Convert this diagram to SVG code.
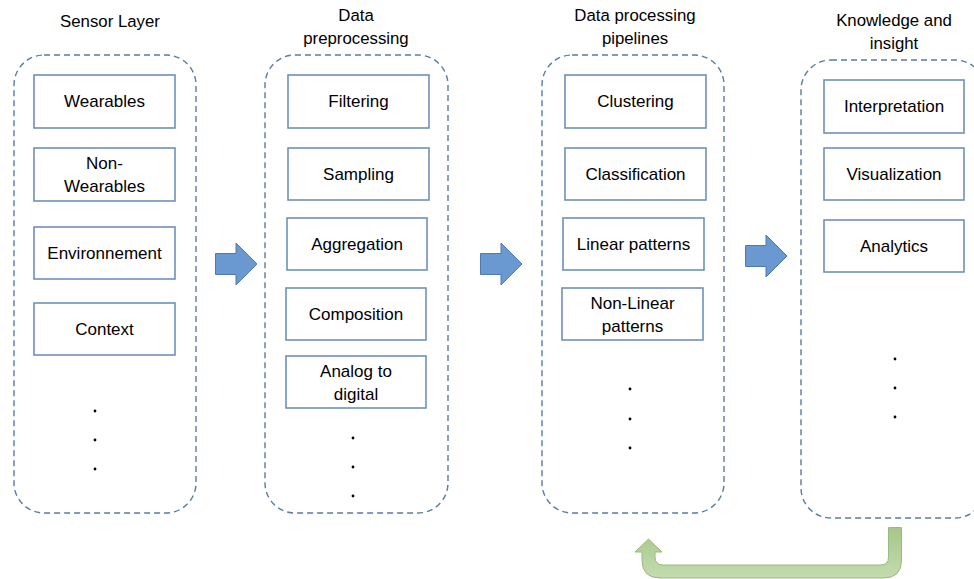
<svg xmlns="http://www.w3.org/2000/svg" width="974" height="579" viewBox="0 0 974 579">
  <defs>
    <style>
      .lane { fill: none; stroke: #5b7aa6; stroke-width: 1.4; stroke-dasharray: 6 4; }
      .box { fill: #ffffff; stroke: #7190b9; stroke-width: 1.6; }
      .title { font-family: "Liberation Sans", Arial, sans-serif; font-size: 16.8px; fill: #000; text-anchor: middle; }
      .label { font-family: "Liberation Sans", Arial, sans-serif; font-size: 17px; fill: #000; text-anchor: middle; }
      .dot { fill: #000; }
      .step { fill: #6a98d0; stroke: #4e79b2; stroke-width: 1; }
    </style>
    <linearGradient id="loopFill" x1="0" y1="0" x2="0" y2="1">
      <stop offset="0" stop-color="#a6c78a"/>
      <stop offset="1" stop-color="#c3dbae"/>
    </linearGradient>
  </defs>

  <!-- Stage headings -->
  <text class="title" x="110" y="27">Sensor Layer</text>
  <text class="title" x="356" y="21">Data</text>
  <text class="title" x="356" y="44">preprocessing</text>
  <text class="title" x="635" y="21">Data processing</text>
  <text class="title" x="635" y="44">pipelines</text>
  <text class="title" x="894" y="26">Knowledge and</text>
  <text class="title" x="894" y="49">insight</text>

  <!-- Stage 1: sensors -->
  <g id="sensor-layer">
    <rect class="lane" x="14" y="55" width="182" height="458" rx="30" ry="30"/>
    <g id="wearables">
      <rect class="box" x="34" y="75" width="141" height="53"/>
      <text class="label" x="104.5" y="107">Wearables</text>
    </g>
    <g id="non-wearables">
      <rect class="box" x="34" y="148" width="141" height="53"/>
      <text class="label" x="104.5" y="169">Non-</text>
      <text class="label" x="104.5" y="192">Wearables</text>
    </g>
    <g id="environnement">
      <rect class="box" x="34" y="227" width="141" height="52"/>
      <text class="label" x="104.5" y="259">Environnement</text>
    </g>
    <g id="context">
      <rect class="box" x="34" y="303" width="141" height="52"/>
      <text class="label" x="104.5" y="335">Context</text>
    </g>
    <circle class="dot" cx="95" cy="411" r="1.4"/>
    <circle class="dot" cx="95" cy="440" r="1.4"/>
    <circle class="dot" cx="95" cy="469" r="1.4"/>
  </g>

  <!-- Stage 2: preprocessing -->
  <g id="preprocessing">
    <rect class="lane" x="265" y="55" width="183" height="458" rx="30" ry="30"/>
    <g id="filtering">
      <rect class="box" x="288" y="75" width="141" height="53"/>
      <text class="label" x="358.5" y="107">Filtering</text>
    </g>
    <g id="sampling">
      <rect class="box" x="288" y="148" width="141" height="52"/>
      <text class="label" x="358.5" y="180">Sampling</text>
    </g>
    <g id="aggregation">
      <rect class="box" x="287" y="218" width="140" height="52"/>
      <text class="label" x="357" y="250">Aggregation</text>
    </g>
    <g id="composition">
      <rect class="box" x="286" y="288" width="140" height="52"/>
      <text class="label" x="356" y="320">Composition</text>
    </g>
    <g id="analog-to-digital">
      <rect class="box" x="286" y="356" width="140" height="52"/>
      <text class="label" x="356" y="377">Analog to</text>
      <text class="label" x="356" y="400">digital</text>
    </g>
    <circle class="dot" cx="353" cy="438" r="1.4"/>
    <circle class="dot" cx="353" cy="467" r="1.4"/>
    <circle class="dot" cx="353" cy="496" r="1.4"/>
  </g>

  <!-- Stage 3: processing pipelines -->
  <g id="pipelines">
    <rect class="lane" x="542" y="55" width="182" height="458" rx="30" ry="30"/>
    <g id="clustering">
      <rect class="box" x="565" y="75" width="141" height="53"/>
      <text class="label" x="635.5" y="107">Clustering</text>
    </g>
    <g id="classification">
      <rect class="box" x="565" y="148" width="141" height="52"/>
      <text class="label" x="635.5" y="180">Classification</text>
    </g>
    <g id="linear-patterns">
      <rect class="box" x="563" y="218" width="141" height="52"/>
      <text class="label" x="633.5" y="250">Linear patterns</text>
    </g>
    <g id="non-linear-patterns">
      <rect class="box" x="562" y="288" width="141" height="52"/>
      <text class="label" x="632.5" y="309">Non-Linear</text>
      <text class="label" x="632.5" y="332">patterns</text>
    </g>
    <circle class="dot" cx="630" cy="389" r="1.4"/>
    <circle class="dot" cx="630" cy="419" r="1.4"/>
    <circle class="dot" cx="630" cy="448" r="1.4"/>
  </g>

  <!-- Stage 4: knowledge -->
  <g id="knowledge">
    <rect class="lane" x="801" y="60" width="184" height="458" rx="30" ry="30"/>
    <g id="interpretation">
      <rect class="box" x="824" y="80" width="140" height="53"/>
      <text class="label" x="894" y="112">Interpretation</text>
    </g>
    <g id="visualization">
      <rect class="box" x="824" y="148" width="140" height="52"/>
      <text class="label" x="894" y="180">Visualization</text>
    </g>
    <g id="analytics">
      <rect class="box" x="824" y="220" width="140" height="52"/>
      <text class="label" x="894" y="252">Analytics</text>
    </g>
    <circle class="dot" cx="895" cy="359" r="1.4"/>
    <circle class="dot" cx="895" cy="388" r="1.4"/>
    <circle class="dot" cx="895" cy="417" r="1.4"/>
  </g>

  <!-- Flow between stages -->
  <g id="connectors">
    <path class="step" d="M215.5 253.5 H236 V243 L257 264 L236 285 V274.5 H215.5 Z"/>
    <path class="step" d="M480.5 253.5 H501 V243 L522 264 L501 285 V274.5 H480.5 Z"/>
    <path class="step" d="M745.5 245.5 H766 V235 L787 256 L766 277 V266.5 H745.5 Z"/>
    <!-- feedback loop from insight back to the pipelines -->
    <path d="M888.5 527.5 H901.5 V560 Q901.5 578 883.5 578 H660 Q642 578 642 560 V552 H635 L648.5 539 L662 552 H655 V557 Q655 565 663 565 H880.5 Q888.5 565 888.5 557 Z"
          fill="url(#loopFill)" stroke="#9aba7e" stroke-width="1"/>
  </g>
</svg>
